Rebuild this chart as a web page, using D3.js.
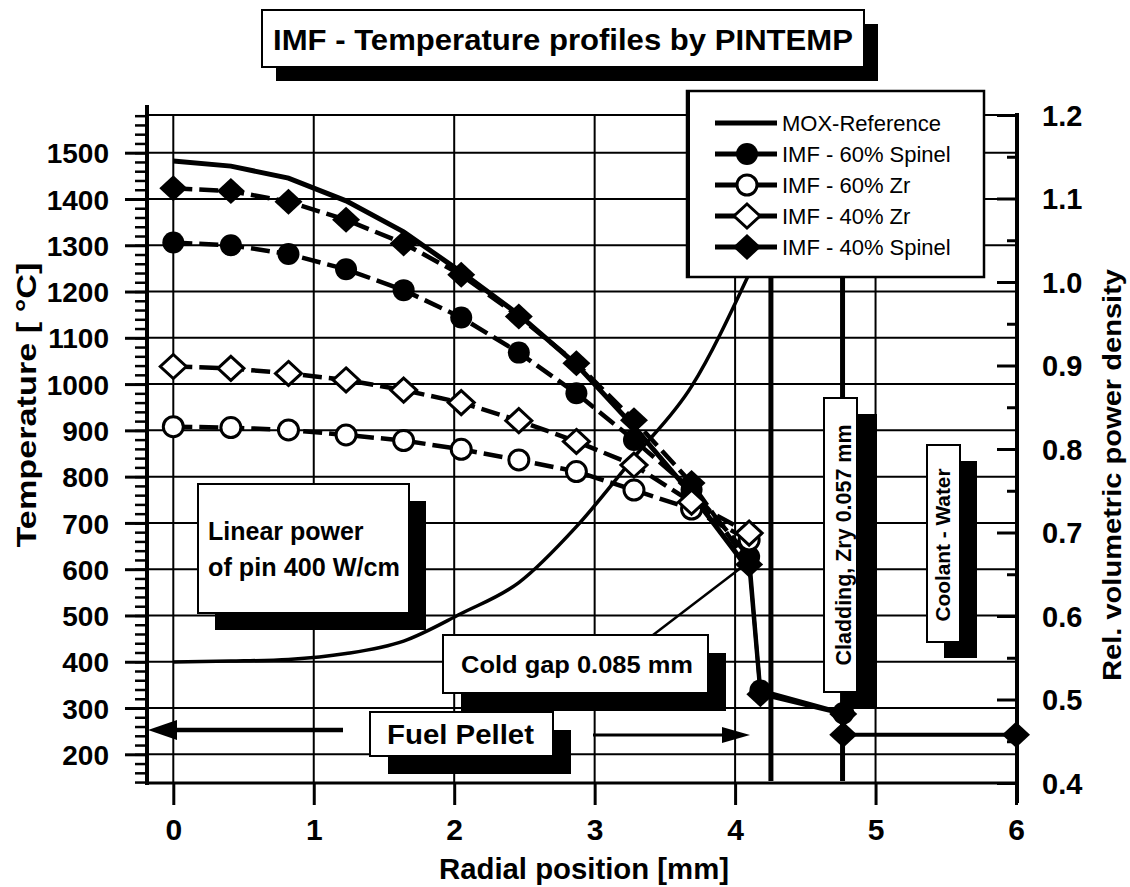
<!DOCTYPE html>
<html>
<head>
<meta charset="utf-8">
<script src="https://cdn.jsdelivr.net/npm/d3@7"></script>
<style>
  body { margin: 0; background: #fff; }
  svg { display: block; font-family: "Liberation Sans", Arial, Helvetica, sans-serif; }
</style>
</head>
<body>
<svg id="chart" width="1130" height="887"></svg>
<script>
// values
var radius = [0, 0.41, 0.82, 1.23, 1.64, 2.05, 2.46, 2.87, 3.28, 3.69, 4.1];
var moxReference = [1482, 1471, 1445, 1396, 1329, 1242, 1150, 1042, 908, 762, 598];
var imf60Spinel = [1306, 1300, 1281, 1248, 1203, 1144, 1068, 980, 879, 772, 627];
var imf60Zr = [908, 906, 901, 890, 878, 859, 836, 811, 771, 730, 663];
var imf40Zr = [1038, 1034, 1023, 1009, 987, 960, 921, 876, 825, 745, 678];
var imf40Spinel = [1423, 1417, 1394, 1355, 1304, 1236, 1146, 1045, 922, 786, 610];
var powerDensity = [0.545, 0.546, 0.548, 0.555, 0.570, 0.603, 0.640, 0.707, 0.790, 0.875, 1.01];

// gap / cladding / coolant points
var spinel60OuterR = [4.18, 4.77];
var spinel60OuterT = [338, 289];
var spinel40OuterR = [4.18, 4.77, 4.77, 6];
var spinel40OuterT = [330, 287, 242, 242];

var claddingInner = 4.255;
var claddingOuter = 4.765;

var tempTicks = [200, 300, 400, 500, 600, 700, 800, 900, 1000, 1100, 1200, 1300, 1400, 1500];
var powerTicks = [0.4, 0.5, 0.6, 0.7, 0.8, 0.9, 1.0, 1.1, 1.2];
var radialTicks = [0, 1, 2, 3, 4, 5, 6];

var svg = d3.select('#chart');
var frame = { left: 147, right: 1017, top: 115, bottom: 783 };

var x = d3.scaleLinear().domain([0, 6]).range([173.3, 1016]);
var yT = d3.scaleLinear().domain([200, 1500]).range([754.3, 152.7]);
var yP = d3.scaleLinear().domain([0.4, 1.2]).range([783, 115]);

function zip(rs, ts) {
  return rs.map((r, i) => ({ r: r, t: ts[i] }));
}

// title
var title = svg.append('g');
title.append('rect').attr('x', 276).attr('y', 24).attr('width', 602).attr('height', 57).attr('fill', '#000');
title.append('rect').attr('x', 262).attr('y', 10).attr('width', 602).attr('height', 57)
  .attr('fill', '#fff').attr('stroke', '#000').attr('stroke-width', 2);
title.append('text').attr('x', 563).attr('y', 50).attr('text-anchor', 'middle')
  .attr('font-size', 30).attr('font-weight', 'bold')
  .attr('textLength', 580).attr('lengthAdjust', 'spacingAndGlyphs')
  .text('IMF - Temperature profiles by PINTEMP');

// grid
var grid = svg.append('g').attr('stroke', '#000').attr('stroke-width', 2);
grid.selectAll('.hgrid').data(tempTicks).enter().append('line')
  .attr('x1', frame.left).attr('x2', frame.right)
  .attr('y1', d => yT(d)).attr('y2', d => yT(d));
grid.selectAll('.vgrid').data(radialTicks).enter().append('line')
  .attr('x1', d => x(d)).attr('x2', d => x(d))
  .attr('y1', frame.top).attr('y2', frame.bottom);
grid.append('line').attr('x1', frame.left).attr('x2', frame.right).attr('y1', frame.top).attr('y2', frame.top);
grid.append('line').attr('x1', frame.left).attr('x2', frame.right).attr('y1', frame.bottom).attr('y2', frame.bottom)
  .attr('stroke-width', 3);

// left axis
var leftMinor = svg.append('g').attr('transform', 'translate(' + frame.left + ',0)')
  .call(d3.axisLeft(yT).tickValues(d3.range(140, 1581, 20)).tickSize(12).tickFormat(''));
var leftAxis = svg.append('g').attr('transform', 'translate(' + frame.left + ',0)')
  .call(d3.axisLeft(yT).tickValues(tempTicks).tickSize(22).tickPadding(16).tickFormat(d3.format('d')));
leftMinor.selectAll('line').attr('stroke-width', 2.5);
leftAxis.selectAll('line').attr('stroke-width', 3);
leftAxis.selectAll('text').attr('font-size', 28).attr('font-weight', 'bold').attr('fill', '#000')
  .attr('font-family', '"Liberation Sans", Arial, sans-serif').attr('dy', '0.36em');

// right axis
var rightMinor = svg.append('g').attr('transform', 'translate(' + frame.right + ',0)')
  .call(d3.axisRight(yP).tickValues(d3.range(0.45, 1.2, 0.1)).tickSize(-10).tickFormat(''));
var rightAxis = svg.append('g').attr('transform', 'translate(' + frame.right + ',0)')
  .call(d3.axisRight(yP).tickValues(powerTicks).tickSize(-20).tickPadding(25).tickFormat(d3.format('.1f')));
rightMinor.selectAll('line').attr('stroke-width', 3);
rightAxis.selectAll('line').attr('stroke-width', 3);
rightAxis.selectAll('text').attr('font-size', 29).attr('font-weight', 'bold').attr('fill', '#000')
  .attr('font-family', '"Liberation Sans", Arial, sans-serif').attr('dy', '0.36em');

// bottom axis
var bottomAxis = svg.append('g').attr('transform', 'translate(0,' + frame.bottom + ')')
  .call(d3.axisBottom(x).tickValues(radialTicks).tickSize(22).tickPadding(12).tickFormat(d3.format('d')));
bottomAxis.selectAll('line').attr('stroke-width', 3);
bottomAxis.selectAll('text').attr('font-size', 30).attr('font-weight', 'bold').attr('fill', '#000')
  .attr('font-family', '"Liberation Sans Narrow", "Liberation Sans", Arial, sans-serif').attr('dy', '0.75em');

svg.selectAll('.domain').remove();
svg.append('line').attr('x1', frame.left).attr('x2', frame.left).attr('y1', frame.top - 10).attr('y2', frame.bottom + 2)
  .attr('stroke', '#000').attr('stroke-width', 4);
svg.append('line').attr('x1', frame.right).attr('x2', frame.right).attr('y1', frame.top - 2).attr('y2', frame.bottom + 20)
  .attr('stroke', '#000').attr('stroke-width', 4);

// axis titles
svg.append('text').attr('transform', 'translate(36,405) rotate(-90)').attr('text-anchor', 'middle')
  .attr('font-size', 27).attr('font-weight', 'bold')
  .attr('textLength', 285).attr('lengthAdjust', 'spacingAndGlyphs')
  .text('Temperature [ °C]');
svg.append('text').attr('transform', 'translate(1121,475) rotate(-90)').attr('text-anchor', 'middle')
  .attr('font-size', 26).attr('font-weight', 'bold')
  .attr('textLength', 412).attr('lengthAdjust', 'spacingAndGlyphs')
  .text('Rel. volumetric power density');
svg.append('text').attr('x', 584).attr('y', 879).attr('text-anchor', 'middle')
  .attr('font-size', 29).attr('font-weight', 'bold')
  .attr('textLength', 290).attr('lengthAdjust', 'spacingAndGlyphs')
  .text('Radial position [mm]');

// power density curve
svg.append('path').datum(zip(radius, powerDensity))
  .attr('fill', 'none').attr('stroke', '#000').attr('stroke-width', 3.5)
  .attr('d', d3.line().x(d => x(d.r)).y(d => yP(d.t)).curve(d3.curveMonotoneX));

// cladding boundaries
svg.selectAll('.clad').data([claddingInner, claddingOuter]).enter().append('line')
  .attr('x1', d => x(d)).attr('x2', d => x(d))
  .attr('y1', frame.top).attr('y2', frame.bottom - 2)
  .attr('stroke', '#000').attr('stroke-width', 5);

// series
var tempLine = d3.line().x(d => x(d.r)).y(d => yT(d.t));
var diamond = s => 'M0,' + (-s) + 'L' + (s + 1) + ',0L0,' + s + 'L' + (-s - 1) + ',0Z';

var series = [
  { name: 'MOX-Reference', pts: zip(radius, moxReference), outer: [], marker: null },
  { name: 'IMF - 40% Spinel', pts: zip(radius, imf40Spinel), outer: zip(spinel40OuterR, spinel40OuterT), marker: 'fdiamond' },
  { name: 'IMF - 60% Spinel', pts: zip(radius, imf60Spinel), outer: zip(spinel60OuterR, spinel60OuterT), marker: 'fcircle' },
  { name: 'IMF - 60% Zr', pts: zip(radius, imf60Zr), outer: [], marker: 'ocircle' },
  { name: 'IMF - 40% Zr', pts: zip(radius, imf40Zr), outer: [], marker: 'odiamond' }
];

function drawMarker(sel, kind) {
  if (kind === 'fcircle') {
    sel.append('circle').attr('r', 11).attr('fill', '#000');
  } else if (kind === 'ocircle') {
    sel.append('circle').attr('r', 10).attr('fill', '#fff').attr('stroke', '#000').attr('stroke-width', 3);
  } else if (kind === 'fdiamond') {
    sel.append('path').attr('d', diamond(13)).attr('fill', '#000');
  } else if (kind === 'odiamond') {
    sel.append('path').attr('d', diamond(12)).attr('fill', '#fff').attr('stroke', '#000').attr('stroke-width', 3);
  }
}

series.forEach(function(s) {
  // pellet part: dashed for the IMF cases, solid for the reference
  svg.append('path').datum(s.pts)
    .attr('fill', 'none').attr('stroke', '#000').attr('stroke-width', s.marker ? 4.5 : 5)
    .attr('stroke-dasharray', s.marker ? '19,7' : null)
    .attr('d', tempLine);
  // gap, cladding and coolant part: solid
  if (s.outer.length) {
    svg.append('path').datum([s.pts[s.pts.length - 1]].concat(s.outer))
      .attr('fill', 'none').attr('stroke', '#000').attr('stroke-width', 4)
      .attr('d', tempLine);
  }
  if (s.marker) {
    var m = svg.selectAll(null).data(s.pts.concat(s.outer)).enter().append('g')
      .attr('transform', d => 'translate(' + x(d.r) + ',' + yT(d.t) + ')');
    drawMarker(m, s.marker);
  }
});

// annotation boxes with black drop shadow
function shadowBox(bx, by, w, h, dx, dy) {
  svg.append('rect').attr('x', bx + dx).attr('y', by + dy).attr('width', w).attr('height', h).attr('fill', '#000');
  svg.append('rect').attr('x', bx).attr('y', by).attr('width', w).attr('height', h)
    .attr('fill', '#fff').attr('stroke', '#000').attr('stroke-width', 2);
}

// cold gap leader line
svg.append('line').attr('x1', 653).attr('y1', 635).attr('x2', 742).attr('y2', 567)
  .attr('stroke', '#000').attr('stroke-width', 2.5);

shadowBox(198, 484, 211, 129, 17, 17);
svg.append('text').attr('x', 208).attr('y', 540).attr('font-size', 25).attr('font-weight', 'bold').text('Linear power');
svg.append('text').attr('x', 208).attr('y', 576).attr('font-size', 25).attr('font-weight', 'bold')
  .attr('textLength', 192).attr('lengthAdjust', 'spacingAndGlyphs').text('of pin 400 W/cm');

shadowBox(443, 635, 265, 58, 18, 18);
svg.append('text').attr('x', 461).attr('y', 673).attr('font-size', 24).attr('font-weight', 'bold')
  .attr('textLength', 232).attr('lengthAdjust', 'spacingAndGlyphs').text('Cold gap 0.085 mm');

// fuel pellet arrows
svg.append('line').attr('x1', 343).attr('y1', 730).attr('x2', 170).attr('y2', 730).attr('stroke', '#000').attr('stroke-width', 4.5);
svg.append('path').attr('d', 'M148,730L177,720L177,740Z').attr('fill', '#000');
svg.append('line').attr('x1', 593).attr('y1', 735).attr('x2', 728).attr('y2', 735).attr('stroke', '#000').attr('stroke-width', 3);
svg.append('path').attr('d', 'M750,735L722,727L722,743Z').attr('fill', '#000');

shadowBox(370, 712, 183, 44, 18, 18);
svg.append('text').attr('x', 387).attr('y', 744).attr('font-size', 28).attr('font-weight', 'bold')
  .attr('textLength', 147).attr('lengthAdjust', 'spacingAndGlyphs').text('Fuel Pellet');

shadowBox(824, 398, 33, 294, 20, 16);
svg.append('text').attr('transform', 'translate(851,545) rotate(-90)').attr('text-anchor', 'middle')
  .attr('font-size', 22).attr('font-weight', 'bold')
  .attr('textLength', 241).attr('lengthAdjust', 'spacingAndGlyphs').text('Cladding, Zry 0.057 mm');

shadowBox(927, 445, 33, 197, 17, 16);
svg.append('text').attr('transform', 'translate(950,545) rotate(-90)').attr('text-anchor', 'middle')
  .attr('font-size', 20).attr('font-weight', 'bold')
  .attr('textLength', 153).attr('lengthAdjust', 'spacingAndGlyphs').text('Coolant - Water');

// legend
var legendOrder = ['MOX-Reference', 'IMF - 60% Spinel', 'IMF - 60% Zr', 'IMF - 40% Zr', 'IMF - 40% Spinel'];
svg.append('rect').attr('x', 687).attr('y', 91).attr('width', 297).attr('height', 186)
  .attr('fill', '#fff').attr('stroke', '#000').attr('stroke-width', 2.5);
svg.append('line').attr('x1', 688).attr('x2', 688).attr('y1', 90).attr('y2', 278).attr('stroke', '#000').attr('stroke-width', 4);
var leg = svg.selectAll('.leg').data(legendOrder.map(n => series.find(s => s.name === n))).enter().append('g')
  .attr('transform', (d, i) => 'translate(0,' + (123 + i * 31) + ')');
leg.append('line').attr('x1', 715).attr('x2', 777).attr('y1', 0).attr('y2', 0)
  .attr('stroke', '#000').attr('stroke-width', 5);
leg.each(function(d) {
  var g = d3.select(this).append('g').attr('transform', 'translate(747,0)');
  drawMarker(g, d.marker);
});
leg.append('text').attr('x', 782).attr('y', 8).attr('font-size', 22).text(d => d.name);
</script>
</body>
</html>
